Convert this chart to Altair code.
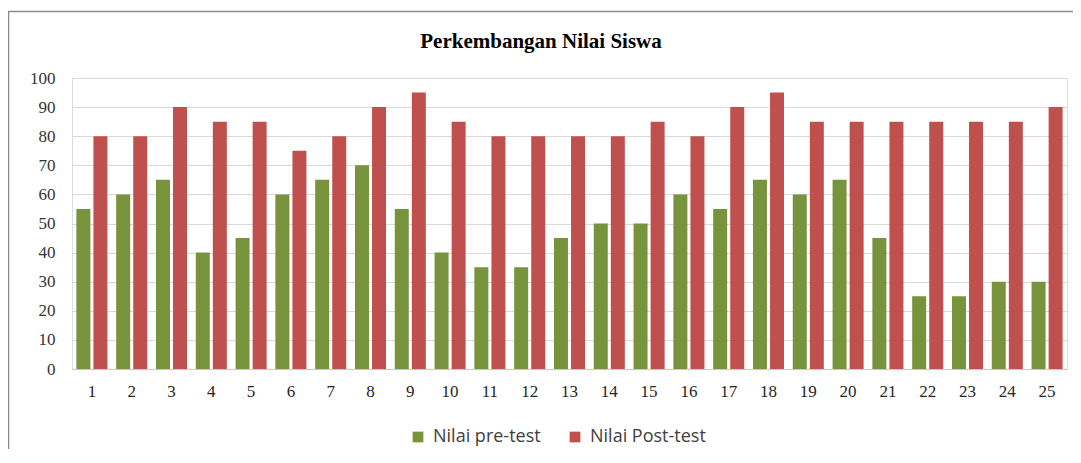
import altair as alt
import pandas as pd

students = [str(i) for i in range(1, 26)]
pre_test = [55, 60, 65, 40, 45, 60, 65, 70, 55, 40, 35, 35, 45, 50, 50, 60, 55, 65, 60, 65, 45, 25, 25, 30, 30]
post_test = [80, 80, 90, 85, 85, 75, 80, 90, 95, 85, 80, 80, 80, 80, 85, 80, 90, 95, 85, 85, 85, 85, 85, 85, 90]
series = ["Nilai pre-test", "Nilai Post-test"]
colors = ["#77933C", "#C0504D"]
y_ticks = list(range(0, 101, 10))
title_text = "Perkembangan Nilai Siswa"

rows = []
for s, a, b in zip(students, pre_test, post_test):
    rows.append({"Siswa": s, "Seri": series[0], "Nilai": a})
    rows.append({"Siswa": s, "Seri": series[1], "Nilai": b})
df = pd.DataFrame(rows)

bars = alt.Chart(df).mark_bar().encode(
    x=alt.X("Siswa:N", sort=students,
            scale=alt.Scale(paddingInner=0.22, paddingOuter=0.11),
            axis=alt.Axis(title=None, labelAngle=0, ticks=False,
                          labelFont="Liberation Serif", labelFontSize=17,
                          labelColor="#262626", labelPadding=14,
                          domainColor="#c8c8c8", grid=False)),
    xOffset=alt.XOffset("Seri:N", sort=series,
                        scale=alt.Scale(paddingInner=0.18, paddingOuter=0)),
    y=alt.Y("Nilai:Q", scale=alt.Scale(domain=[0, 100], nice=False),
            axis=alt.Axis(title=None, values=y_ticks, ticks=False, domain=False,
                          labelFont="Liberation Serif", labelFontSize=17,
                          labelColor="#333333", labelPadding=17,
                          gridColor="#d9d9d9", gridWidth=1)),
    color=alt.Color("Seri:N", sort=series,
                    scale=alt.Scale(domain=series, range=colors),
                    legend=alt.Legend(orient="none", legendX=337, legendY=350,
                                      direction="horizontal", title=None,
                                      symbolType="square", symbolSize=115,
                                      symbolStrokeWidth=0,
                                      labelFont="Open Sans", labelFontSize=18,
                                      labelColor="#404040", labelOffset=6,
                                      columnPadding=25)),
)

border_left = alt.Chart(alt.Data(values=[{}])).mark_rule(
    color="#8a8a8a", strokeWidth=1.5
).encode(x=alt.value(-63.5), y=alt.value(-66.5), y2=alt.value(420))

border_top = alt.Chart(alt.Data(values=[{}])).mark_rule(
    color="#8a8a8a", strokeWidth=1.5
).encode(x=alt.value(-64.2), x2=alt.value(1020), y=alt.value(-66.5))

title = alt.Chart(alt.Data(values=[{}])).mark_text(
    font="Liberation Serif", fontSize=21, fontWeight="bold", color="#000000",
    align="center", baseline="alphabetic"
).encode(x=alt.value(469), y=alt.value(-30), text=alt.value(title_text))

chart = alt.layer(bars, border_left, border_top, title).properties(
    width=995,
    height=291,
    autosize=alt.AutoSizeParams(type="none"),
    padding={"left": 64, "top": 70, "right": 6, "bottom": 80},
).configure_view(stroke=None).configure(background="white")

chart.save("out.html", embed_options={"renderer": "svg", "actions": False})
